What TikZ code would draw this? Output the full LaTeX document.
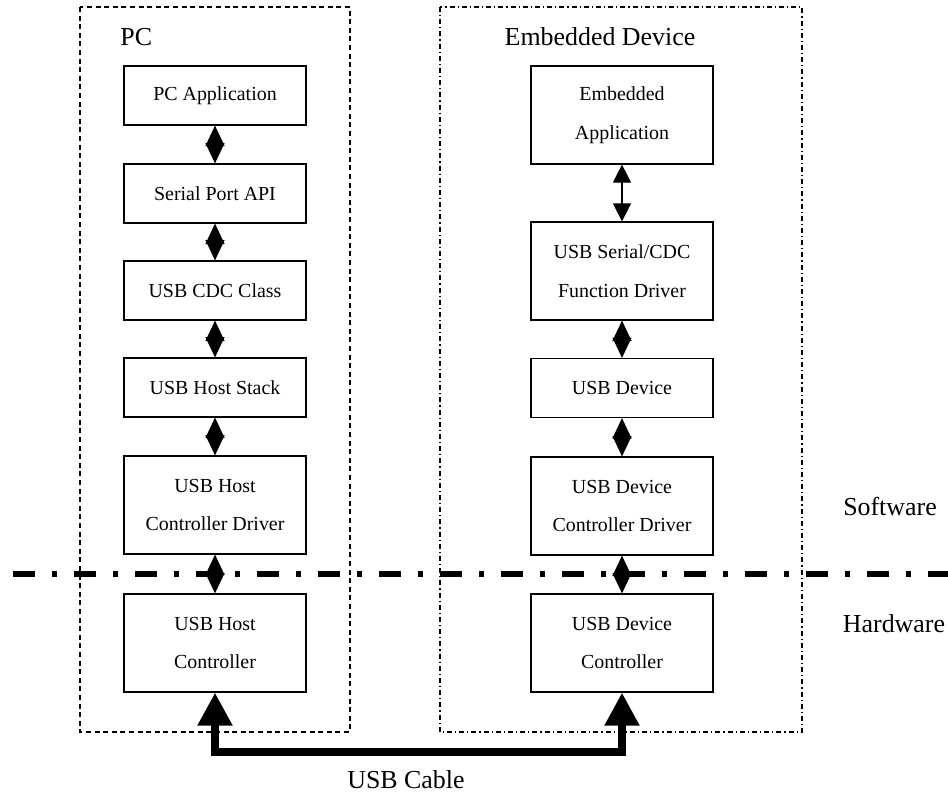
\documentclass[tikz,border=0pt]{standalone}
\usepackage{fontspec}
\setmainfont{Liberation Serif}
\usetikzlibrary{arrows.meta}

\begin{document}
\begin{tikzpicture}[x=0.5bp,y=-0.5bp,
    layer/.style={draw,line width=0.6bp,minimum width=91bp,minimum height=29.5bp,
      inner sep=0pt,align=center,font=\fontsize{10}{19.5}\selectfont},
    tall/.style={layer,minimum height=49bp},
    link/.style={line width=0.5bp,
      {Triangle[width=9.5bp,length=10.2bp]}-{Triangle[width=9.5bp,length=10.2bp]}},
    cable/.style={line width=4bp,
      {Triangle[width=16.5bp,length=16.5bp]}-{Triangle[width=16.5bp,length=16.5bp]}},
    title/.style={font=\fontsize{13}{15}\selectfont,inner sep=0pt}]

  \useasboundingbox (0,0) rectangle (948,794);

  \begin{scope}   % ramecky PC a zarizeni

    \coordinate (PA) at (80,7);
    \coordinate (PB) at (350,732);
    \coordinate (EA) at (440,7);
    \coordinate (EB) at (802,732);

    \draw[line width=0.6bp,dash pattern=on 2.5bp off 1.8bp] (PA) rectangle (PB);
    \draw[line width=0.6bp,dash pattern=on 2.5bp off 1.5bp on 0.6bp off 1.5bp]
         (EA) rectangle (EB);

    \node[title,anchor=west] (pclabel) at (120,37) {PC};
    \node[title] (emblabel) at (600,37) {Embedded Device};

  \end{scope}

  \def\Px{215};   % stred sloupce PC
  \def\Ex{622};   % stred sloupce zarizeni

  \node[layer] (pcapp)  at (\Px,95.5)  {PC Application};
  \node[layer] (serial) at (\Px,193.5) {Serial Port API};
  \node[layer] (cdc)    at (\Px,290.5) {USB CDC Class};
  \node[layer] (stack)  at (\Px,387.5) {USB Host Stack};
  \node[tall]  (hcd)    at (\Px,505)   {USB Host\\Controller Driver};
  \node[tall]  (hc)     at (\Px,643)   {USB Host\\Controller};

  \node[tall]  (embapp) at (\Ex,115)   {Embedded\\Application};
  \node[tall]  (cdcdrv) at (\Ex,271)   {USB Serial/CDC\\Function Driver};
  \node[layer] (device) at (\Ex,388)   {USB Device};
  \node[tall]  (dcd)    at (\Ex,506)   {USB Device\\Controller Driver};
  \node[tall]  (dc)     at (\Ex,643)   {USB Device\\Controller};

  % hranice software / hardware
  \coordinate (LA) at (13,574);
  \coordinate (LB) at (948,574);
  \draw[line width=3bp,dash pattern=on 11bp off 8.5bp on 2.5bp off 8.5bp] (LA)--(LB);

  \node[title] (sw) at (890,507) {Software};
  \node[title] (hw) at (894,624) {Hardware};

  \draw[link] (pcapp.south)--(serial.north);
  \draw[link] (serial.south)--(cdc.north);
  \draw[link] (cdc.south)--(stack.north);
  \draw[link] (stack.south)--(hcd.north);
  \draw[link] (hcd.south)--(hc.north);

  \draw[line width=0.6bp,
        {Triangle[width=9bp,length=9bp]}-{Triangle[width=9bp,length=9bp]}]
       (embapp.south)--(cdcdrv.north);
  \draw[link] (cdcdrv.south)--(device.north);
  \draw[link] (device.south)--(dcd.north);
  \draw[link] (dcd.south)--(dc.north);

  \coordinate (CL) at (\Px,752);
  \draw[cable] (hc.south)--(CL)-|(dc.south);
  \node[title] (cablelabel) at (406,780) {USB Cable};

\end{tikzpicture}
\end{document}
